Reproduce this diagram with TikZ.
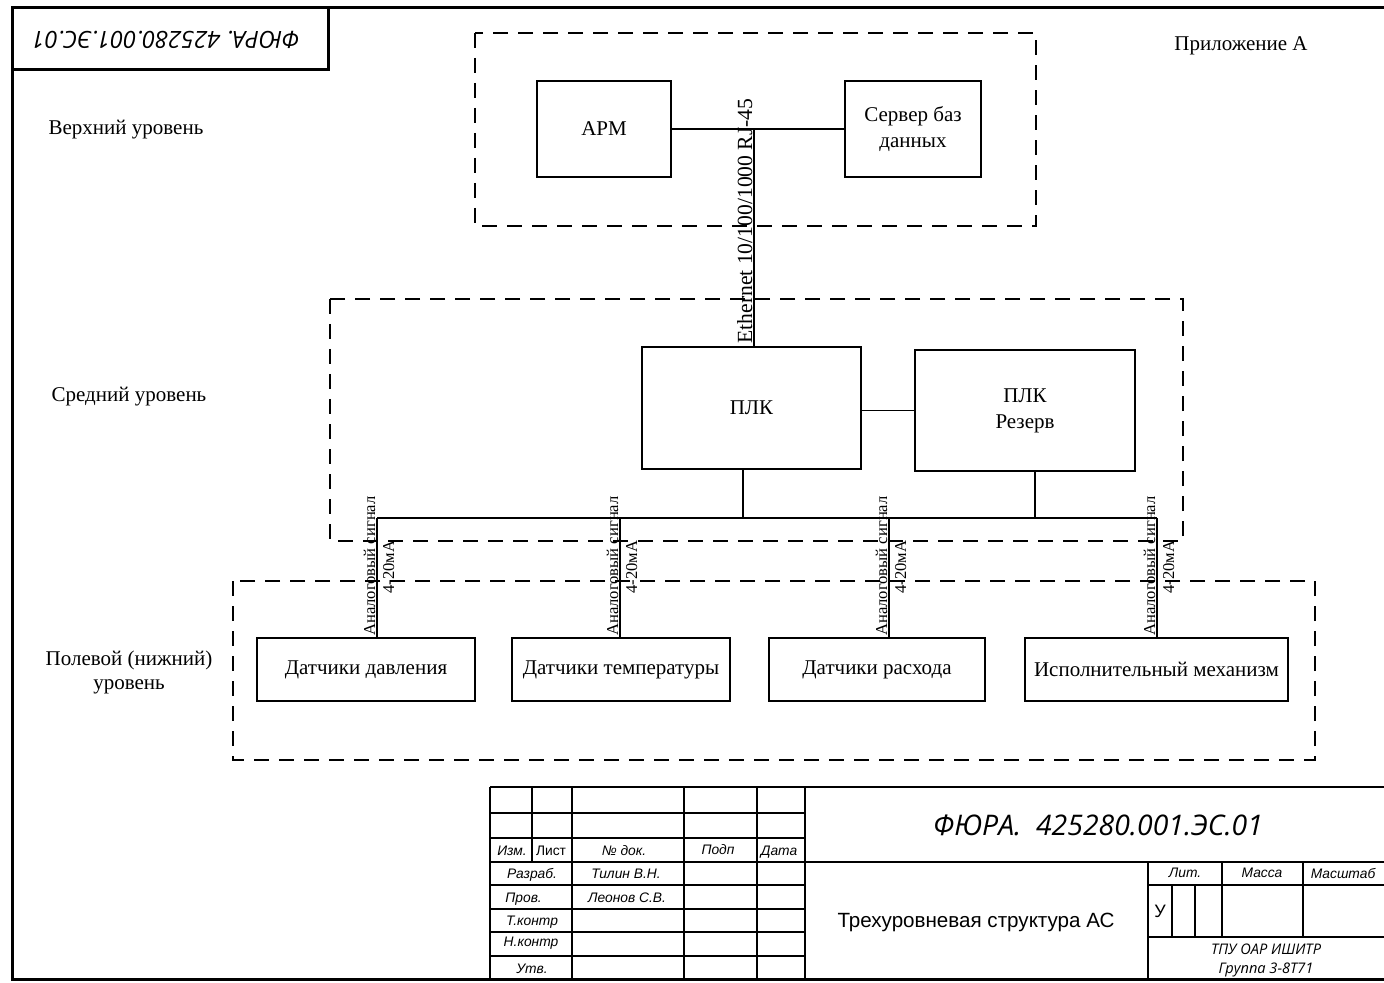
\documentclass[tikz,border=0pt]{standalone}
\usepackage{fontspec}
\setmainfont{Liberation Serif}
\newfontfamily\arialf{Liberation Sans}
\newfontfamily\opensf{Open Sans}
\tikzset{
  blk/.style={draw, line width=0.65pt, inner sep=0pt, align=center,
              font=\fontsize{10.5}{13}\selectfont},
  zone/.style={draw, line width=0.75pt, dash pattern=on 7.5pt off 5pt},
  wire/.style={line width=0.65pt},
  lvl/.style={align=center, inner sep=0pt, font=\fontsize{10.5}{12}\selectfont},
  sig/.style={rotate=90, anchor=base, inner sep=0pt, font=\fontsize{8.3}{9}\selectfont},
  frame/.style={line width=1.5pt},
  grid/.style={line width=1.2pt},
  tbl/.style={inner sep=0pt, font=\arialf\itshape\fontsize{6.9}{8}\selectfont},
  tbr/.style={inner sep=0pt, font=\arialf\fontsize{6.9}{8}\selectfont},
  tbo/.style={inner sep=0pt, font=\opensf\itshape\fontsize{7.3}{9}\selectfont},
}
\begin{document}
\begin{tikzpicture}[x=0.5pt,y=-0.5pt]
\path[use as bounding box] (0,0) rectangle (1384,983);

% sheet frame and the turned code field
\draw[frame] (1384,8) -- (12,8) -- (12,979) -- (1384,979);
\draw[frame] (12,70) -- (328,70) -- (328,8);
\node[rotate=180, inner sep=0pt, font=\opensf\itshape\fontsize{11.8}{13}\selectfont] (stamp) at (166,40) {ФЮРА. 425280.001.ЭС.01};

\node[lvl] (app) at (1241,46) {Приложение А};

% level captions
\node[lvl] (lv1) at (126,130) {Верхний уровень};
\node[lvl] (lv2) at (129,397) {Средний уровень};
\node[lvl] (lv3) at (129,672) {Полевой (нижний)\\уровень};

% level zones
\draw[zone] (475,33) rectangle (1036,226);
\draw[zone] (330,299) rectangle (1183,541);
\draw[zone] (233,581) rectangle (1315,760);

% upper level
\node[blk, minimum width=67pt, minimum height=48pt] (arm) at (604,129) {АРМ};
\node[blk, minimum width=68pt, minimum height=48pt] (srv) at (913,129) {Сервер баз\\данных};

% middle level
\node[blk, minimum width=109.5pt, minimum height=61pt] (plc) at (751.5,408) {ПЛК};
\node[blk, minimum width=110pt, minimum height=60.5pt] (res) at (1025,410.5) {ПЛК\\Резерв};

% field level
\node[blk, minimum width=109pt, minimum height=31.5pt] (d1) at (366,669.5) {Датчики давления};
\node[blk, minimum width=109pt, minimum height=31.5pt] (d2) at (621,669.5) {Датчики температуры};
\node[blk, minimum width=108pt, minimum height=31.5pt] (d3) at (877,669.5) {Датчики расхода};
\node[blk, minimum width=131.5pt, minimum height=31.5pt] (d4) at (1156.5,669.5) {Исполнительный механизм};

% Ethernet link
\coordinate (jtop) at (754,129);
\draw[wire] (arm) -- (srv);
\draw[wire] (jtop) -- (jtop |- plc.north);
\node[rotate=90, anchor=base, inner sep=0pt, font=\fontsize{10.8}{12}\selectfont] (eth) at (752,221) {Ethernet 10/100/1000 RJ-45};

% controller links and field bus
\draw[wire] (plc.east |- res.west) -- (res.west);
\coordinate (busL) at (377,518);
\coordinate (busR) at (1157,518);
\coordinate (b2) at (620,518);
\coordinate (b3) at (889,518);
\coordinate (p1) at (743,518);
\coordinate (p2) at (1035,518);
\draw[wire] (busL) -- (busR);
\draw[wire] (p1 |- plc.south) -- (p1);
\draw[wire] (p2 |- res.south) -- (p2);
\draw[wire] (busL) -- (busL |- d1.north);
\draw[wire] (b2) -- (b2 |- d2.north);
\draw[wire] (b3) -- (b3 |- d3.north);
\draw[wire] (busR) -- (busR |- d4.north);

% signal captions
\node[sig] (sa1) at (375,566) {Аналоговый сигнал};
\node[sig] (sb1) at (394,567) {4-20мА};
\node[sig] (sa2) at (618,566) {Аналоговый сигнал};
\node[sig] (sb2) at (637,567) {4-20мА};
\node[sig] (sa3) at (887,566) {Аналоговый сигнал};
\node[sig] (sb3) at (906,567) {4-20мА};
\node[sig] (sa4) at (1155,566) {Аналоговый сигнал};
\node[sig] (sb4) at (1174,567) {4-20мА};

% title block grid
\draw[grid] (490,787) -- (1384,787);
\draw[grid] (490,813) -- (805,813);
\draw[grid] (490,838) -- (805,838);
\draw[grid] (490,862) -- (1384,862);
\draw[grid] (490,885) -- (805,885);
\draw[grid] (490,909) -- (805,909);
\draw[grid] (490,932) -- (805,932);
\draw[grid] (490,956) -- (805,956);
\draw[grid] (490,787) -- (490,979);
\draw[grid] (532,787) -- (532,862);
\draw[grid] (572,787) -- (572,979);
\draw[grid] (684,787) -- (684,979);
\draw[grid] (757,787) -- (757,979);
\draw[grid] (805,787) -- (805,979);
\draw[grid] (1148,862) -- (1148,979);
\draw[grid] (1222,862) -- (1222,937);
\draw[grid] (1303,862) -- (1303,937);
\draw[grid] (1172,885) -- (1172,937);
\draw[grid] (1195,885) -- (1195,937);
\draw[grid] (1148,885) -- (1384,885);
\draw[grid] (1148,937) -- (1384,937);

% title block texts
\node[tbl] (t1) at (512,851) {Изм.};
\node[tbr] (t2) at (551,851) {Лист};
\node[tbl] (t3) at (624,851) {№ док.};
\node[tbl] (t4) at (718,850) {Подп};
\node[tbl] (t5) at (779,852) {Дата};
\node[tbl] (t6) at (532,875) {Разраб.};
\node[tbl, anchor=west] (t7) at (505,899) {Пров.};
\node[tbl] (t8) at (532,922) {Т.контр};
\node[tbl] (t9) at (531,943) {Н.контр};
\node[tbl] (t10) at (532,969) {Утв.};
\node[tbl] (t11) at (626,874) {Тилин В.Н.};
\node[tbl] (t12) at (627,898) {Леонов С.В.};

\node[inner sep=0pt, font=\opensf\itshape\fontsize{14.2}{16}\selectfont] (code) at (1098,825) {ФЮРА. \ 425280.001.ЭС.01};
\node[inner sep=0pt, font=\arialf\fontsize{10.3}{12}\selectfont] (ttl) at (976,922) {Трехуровневая структура АС};
\node[tbl] (lit) at (1185,873) {Лит.};
\node[tbl] (mas) at (1262,873) {Масса};
\node[tbl] (msh) at (1343,873) {Масштаб};
\node[inner sep=0pt, font=\arialf\fontsize{9}{10}\selectfont] (u) at (1160,911) {У};
\node[tbo] (org) at (1266,949) {ТПУ ОАР ИШИТР};
\node[tbo] (grp) at (1266,970) {Группа 3-8Т71};
\end{tikzpicture}
\end{document}
